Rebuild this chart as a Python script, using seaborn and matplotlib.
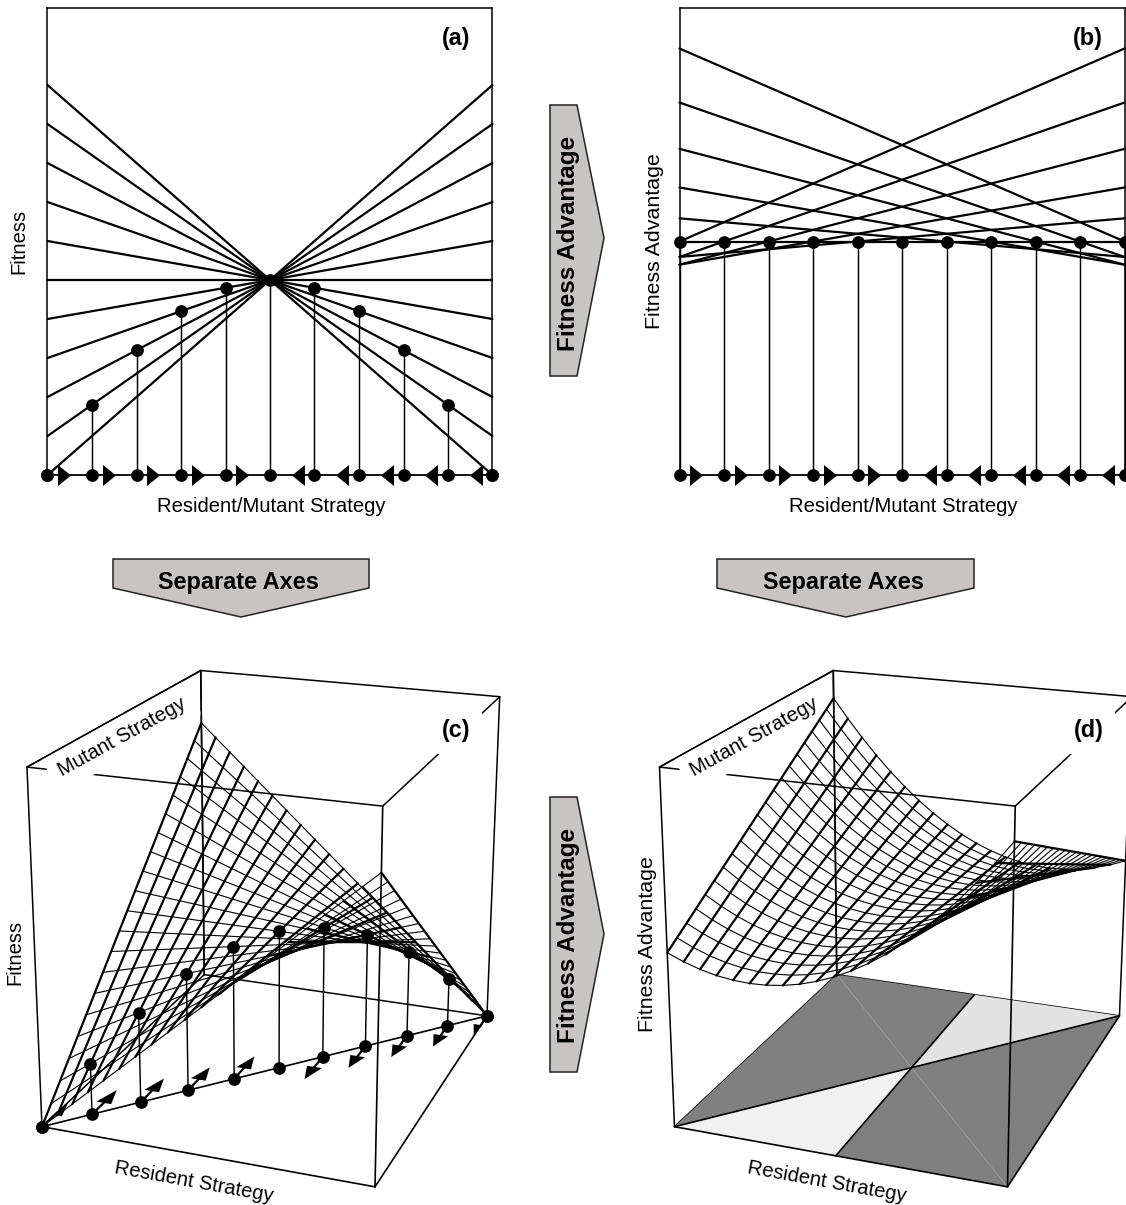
import numpy as np
import pandas as pd
import matplotlib
matplotlib.use("Agg")
import matplotlib.pyplot as plt
from matplotlib.markers import MarkerStyle
from matplotlib.patches import Polygon
import seaborn as sns

# strategies with a dot, and the height of the hump through them
dot_r = [0.0, 0.1, 0.2, 0.3, 0.4, 0.5, 0.6, 0.7, 0.8, 0.9, 1.0]
hump = [0.0, 0.36, 0.64, 0.84, 0.96, 1.0, 0.96, 0.84, 0.64, 0.36, 0.0]
fit_left = [0.0, 0.2, 0.4, 0.6, 0.8, 1.0, 1.2, 1.4, 1.6, 1.8, 2.0]
fit_right = [2.0, 1.8, 1.6, 1.4, 1.2, 1.0, 0.8, 0.6, 0.4, 0.2, 0.0]
adv_left = [0.0, -0.16, -0.24, -0.24, -0.16, 0.0, 0.24, 0.56, 0.96, 1.44, 2.0]
adv_right = [2.0, 1.44, 0.96, 0.56, 0.24, 0.0, -0.16, -0.24, -0.24, -0.16, 0.0]
arrow_right = [0.038, 0.138, 0.238, 0.338, 0.438]
arrow_left = [0.562, 0.662, 0.762, 0.862, 0.962]
arrow_dirs = [1, 1, 1, 1, 1, 0, -1, -1, -1, -1, -1]

# surface mesh: height along the two edges m=0 and m=1
grid = [0.0, 0.05, 0.1, 0.15, 0.2, 0.25, 0.3, 0.35, 0.4, 0.45, 0.5,
        0.55, 0.6, 0.65, 0.7, 0.75, 0.8, 0.85, 0.9, 0.95, 1.0]
fit_m0 = [0.0, 0.1, 0.2, 0.3, 0.4, 0.5, 0.6, 0.7, 0.8, 0.9, 1.0,
          1.1, 1.2, 1.3, 1.4, 1.5, 1.6, 1.7, 1.8, 1.9, 2.0]
fit_m1 = fit_m0[::-1]
adv_m0 = [0.0, -0.09, -0.16, -0.21, -0.24, -0.25, -0.24, -0.21, -0.16, -0.09, 0.0,
          0.11, 0.24, 0.39, 0.56, 0.75, 0.96, 1.19, 1.44, 1.71, 2.0]
adv_m1 = adv_m0[::-1]

FIT_LIM = (0, 2.395)
ADV_LIM = (-2.42, 2.42)

# box corners of panel (c) in pixels: (r, m, top?) -> (x, y)
box_unit = [(0, 0, 0), (1, 0, 0), (1, 1, 0), (0, 1, 0),
            (0, 0, 1), (1, 0, 1), (1, 1, 1), (0, 1, 1)]
box_px = [(42.0, 1126.5), (375.0, 1187.0), (487.0, 1015.5), (204.2, 975.0),
          (27.0, 766.8), (382.7, 806.5), (499.7, 696.6), (200.8, 670.6)]
D_SHIFT = 632.5


def fit_projection(unit, px):
    rows = []
    for (a, b, c), (x, y) in zip(unit, px):
        rows.append([a, b, c, 1, 0, 0, 0, 0, -x * a, -x * b, -x * c, -x])
        rows.append([0, 0, 0, 0, a, b, c, 1, -y * a, -y * b, -y * c, -y])
    return np.linalg.svd(np.array(rows, dtype=float))[2][-1].reshape(3, 4)


P = fit_projection(box_unit, box_px)


def project(r, m, h, shift=0):
    pts = np.column_stack([r, m, h, np.ones(len(r))]) @ P.T
    return pts[:, 0] / pts[:, 2] + shift, pts[:, 1] / pts[:, 2]


def draw_lines(ax, x, y, units, lw, zorder=3):
    df = pd.DataFrame({"x": x, "y": y, "u": units})
    sns.lineplot(data=df, x="x", y="y", units="u", estimator=None, sort=False,
                 color="black", lw=lw, legend=False, ax=ax, zorder=zorder,
                 clip_on=False)


def draw_dots(ax, x, y, zorder=5):
    sns.scatterplot(x=x, y=y, color="black", s=84, linewidth=0, legend=False,
                    ax=ax, zorder=zorder, clip_on=False)


def flat_panel(ax, left, right, ylim, label, ylabel, ylabel_x, ylabel_size, stems_to_top):
    n = len(dot_r)
    x = [0.0, 1.0] * n
    y = [v for pair in zip(left, right) for v in pair]
    units = [i for i in range(n) for _ in (0, 1)]
    draw_lines(ax, x, y, units, 1.6)
    sx = [v for v in dot_r for _ in (0, 1)]
    sy = [v for t in stems_to_top for v in (ylim[0], t)]
    draw_lines(ax, sx, sy, units, 1.05)
    draw_lines(ax, [0, 1], [ylim[0], ylim[0]], [0, 0], 1.3)
    draw_dots(ax, dot_r, [ylim[0]] * n)
    draw_dots(ax, dot_r, stems_to_top)
    rt = MarkerStyle([(-6.5, -10.5), (6.5, 0), (-6.5, 10.5)])
    lf = MarkerStyle([(6.5, -10.5), (-6.5, 0), (6.5, 10.5)])
    sns.scatterplot(x=arrow_right, y=[ylim[0]] * 5, marker=rt, s=229, color="black",
                    linewidth=0, legend=False, ax=ax, zorder=4, clip_on=False)
    sns.scatterplot(x=arrow_left, y=[ylim[0]] * 5, marker=lf, s=229, color="black",
                    linewidth=0, legend=False, ax=ax, zorder=4, clip_on=False)
    ax.set_xlim(0, 1)
    ax.set_ylim(*ylim)
    ax.set_xticks([])
    ax.set_yticks([])
    ax.set_xlabel("Resident/Mutant Strategy", fontsize=LABEL)
    ax.xaxis.set_label_coords(0.503, -22 / 467)
    ax.set_ylabel(ylabel, fontsize=ylabel_size)
    ax.yaxis.set_label_coords(ylabel_x, 0.5)
    ax.spines["bottom"].set_visible(False)
    for s in ax.spines.values():
        s.set_linewidth(1.1)
        s.set_color("black")
    ax.text(0.918, 0.934, label, transform=ax.transAxes, ha="center", va="center",
            fontsize=PANEL, fontweight="bold")


def segs(ax, pts, shift, lw, zorder):
    x, y, u = [], [], []
    for i, ((a, b, c), (d, e, f)) in enumerate(pts):
        px, py = project(np.array([a, d]), np.array([b, e]), np.array([c, f]), shift)
        x += list(px)
        y += list(py)
        u += [i, i]
    draw_lines(ax, x, y, u, lw, zorder)


def corner(i):
    return box_unit[i]


def mesh(ax, edge0, edge1, zlim, shift, zorder=3):
    g = np.array(grid)
    e0 = (np.array(edge0) - zlim[0]) / (zlim[1] - zlim[0])
    e1 = (np.array(edge1) - zlim[0]) / (zlim[1] - zlim[0])
    x, y, u = [], [], []
    for i in range(len(g)):
        px, py = project(np.array([g[i], g[i]]), np.array([0.0, 1.0]),
                         np.array([e0[i], e1[i]]), shift)
        x += list(px)
        y += list(py)
        u += [i, i]
    draw_lines(ax, x, y, u, 1.6, zorder)
    x, y, u = [], [], []
    for j in range(len(g)):
        h = e0 + g[j] * (e1 - e0)
        px, py = project(g, np.full(len(g), g[j]), h, shift)
        x += list(px)
        y += list(py)
        u += [j] * len(g)
    draw_lines(ax, x, y, u, 0.8, zorder)


def block_arrow(ax, verts, text, rot, cx, cy, size):
    ax.add_patch(Polygon(verts, closed=True, facecolor="#c9c4c4", edgecolor="#222222",
                         lw=1.1, zorder=2))
    ax.text(cx, cy, text, rotation=rot, ha="center", va="center",
            fontsize=size, fontweight="bold", zorder=3)


LABEL = 14.6
ADV_LABEL = 15.4
PANEL = 16.8
BLOCK = 16.9
ADV_BLOCK = 17.5
W, H = 1126, 1205

sns.set_theme(style="white")
plt.rcParams["font.family"] = ["Liberation Sans", "DejaVu Sans"]
plt.rcParams["text.color"] = "black"
plt.rcParams["axes.labelcolor"] = "black"

fig = plt.figure(figsize=(W / 100, H / 100), dpi=100)
bg = fig.add_axes([0, 0, 1, 1])
bg.axis("off")

ax_a = fig.add_axes([47.5 / W, 1 - 475 / H, 445 / W, 467 / H])
flat_panel(ax_a, fit_left, fit_right, FIT_LIM, "(a)", "Fitness", -19 / 445, LABEL, hump)

ax_b = fig.add_axes([679.5 / W, 1 - 475 / H, 445 / W, 467 / H])
flat_panel(ax_b, adv_left, adv_right, ADV_LIM, "(b)", "Fitness Advantage", -16 / 445,
           ADV_LABEL, [0.0] * 11)

# block arrows
block_arrow(bg, [(113, 559), (369, 559), (369, 588), (241, 617), (113, 588)],
            "Separate Axes", 0, 238, 582, BLOCK)
block_arrow(bg, [(717, 559), (974, 559), (974, 588), (846, 617), (717, 588)],
            "Separate Axes", 0, 843, 582, BLOCK)
block_arrow(bg, [(550, 105), (577, 105), (604, 238), (577, 376), (550, 376)],
            "Fitness Advantage", 90, 569, 243, ADV_BLOCK)
block_arrow(bg, [(550, 797), (577, 797), (604, 934), (577, 1072), (550, 1072)],
            "Fitness Advantage", 90, 569, 935, ADV_BLOCK)

back = [(3, 0), (3, 2), (3, 7), (0, 4), (2, 6), (4, 7), (7, 6), (4, 5), (5, 6)]
front = [(0, 1), (1, 2), (1, 5)]

# panel (c)
segs(bg, [(corner(a), corner(b)) for a, b in back], 0, 1.1, 1)
mesh(bg, fit_m0, fit_m1, FIT_LIM, 0, zorder=3)
n = len(dot_r)
r = np.array(dot_r)
top = np.array(hump) / FIT_LIM[1]
segs(bg, [((v, v, 0), (v, v, t)) for v, t in zip(r, top)], 0, 1.05, 4)
segs(bg, [((0, 0, 0), (1, 1, 0))], 0, 1.2, 4)
fx, fy = project(r, r, np.zeros(n))
tx, ty = project(r, r, top)
draw_dots(bg, list(fx), list(fy), zorder=6)
draw_dots(bg, list(tx), list(ty), zorder=6)
for v, d in zip(dot_r, arrow_dirs):
    if d == 0:
        continue
    segs(bg, [((v, v, 0), (v, v + d * 0.08, 0))], 0, 1.6, 4)
    hr = np.clip([v - 0.024, v, v + 0.024], 0, 1)
    hm = np.clip([v + d * 0.065, v + d * 0.14, v + d * 0.065], 0, 1)
    hx, hy = project(hr, hm, np.zeros(3))
    bg.add_patch(Polygon(np.column_stack([hx, hy]), closed=True, color="black", lw=0, zorder=5))
segs(bg, [(corner(a), corner(b)) for a, b in front], 0, 1.2, 6)

# panel (d)
segs(bg, [(corner(a), corner(b)) for a, b in back], D_SHIFT, 1.1, 1)
floor_regions = [
    ([0, 0.5, 0.5, 0], [0, 0.5, 1, 1], "#808080"),
    ([0.5, 1, 1, 0.5], [0, 0, 1, 0.5], "#808080"),
    ([0, 0.5, 0.5], [0, 0, 0.5], "#f1f1f1"),
    ([0.5, 1, 0.5], [0.5, 1, 1], "#e2e2e2"),
]
for fr, fm, col in floor_regions:
    hx, hy = project(np.array(fr, float), np.array(fm, float), np.zeros(len(fr)), D_SHIFT)
    bg.add_patch(Polygon(np.column_stack([hx, hy]), closed=True, facecolor=col, lw=0, zorder=1.5))
segs(bg, [((0, 0, 0), (1, 1, 0)), ((0.5, 0, 0), (0.5, 1, 0))], D_SHIFT, 1.2, 2)
lx, ly = project(np.array([0.0, 1.0]), np.array([1.0, 0.0]), np.zeros(2), D_SHIFT)
bg.plot(lx, ly, color="#a8a8a8", lw=0.5, zorder=1.6)
mesh(bg, adv_m0, adv_m1, ADV_LIM, D_SHIFT, zorder=3)
segs(bg, [(corner(a), corner(b)) for a, b in front], D_SHIFT, 1.2, 6)

# 3d labels, boxed in white so they break the frame lines
box = dict(facecolor="white", edgecolor="none", pad=7)
for shift, zlab, lab, zy, zsize in [(0, "Fitness", "(c)", 952, LABEL),
                                    (D_SHIFT, "Fitness Advantage", "(d)", 944, ADV_LABEL)]:
    bg.text(122 + shift, 737, "Mutant Strategy", rotation=28.9, ha="center", va="center",
            fontsize=LABEL, bbox=box, zorder=2.5, rotation_mode="anchor")
    bg.text(194 + shift, 1182, "Resident Strategy", rotation=-10.3, ha="center", va="center",
            fontsize=LABEL, zorder=7, rotation_mode="anchor")
    bg.text(15 + shift, zy, zlab, rotation=90, ha="center", va="center", fontsize=zsize, zorder=7)
    bg.text(456.5 + shift, 731, lab, ha="center", va="center", fontsize=PANEL,
            fontweight="bold", zorder=2.5, bbox=dict(facecolor="white", edgecolor="none", pad=8))
# these back edges run past the label boxes, keep them whole
for shift in (0, D_SHIFT):
    segs(bg, [(corner(4), corner(7)), (corner(3), corner(7))], shift, 1.1, 2.6)

bg.set_xlim(0, W)
bg.set_ylim(H, 0)
bg.set_xlabel("")
bg.set_ylabel("")

fig.savefig("out.png", dpi=100, facecolor="white")
